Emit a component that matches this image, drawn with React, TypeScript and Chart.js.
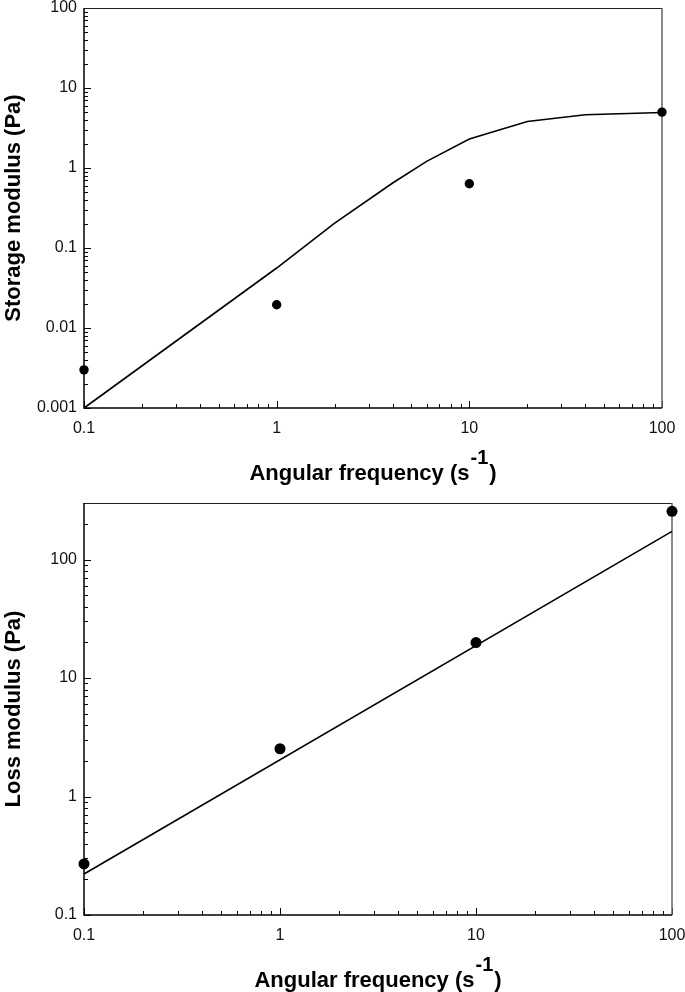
import React, { useEffect, useRef } from "react";
import { Chart, registerables } from "chart.js";

Chart.register(...registerables);

const FONT = "'Liberation Sans', Arial, Helvetica, sans-serif";

// ---- Data: storage modulus (top panel) ----
const topDotFreq = [0.1, 1, 10, 100];
const topDotStorage = [0.003, 0.0195, 0.635, 5.0];
const topFitFreq = [0.1, 1, 2, 4, 6, 10, 20, 40, 100];
const topFitStorage = [0.001, 0.0562, 0.205, 0.65, 1.21, 2.3, 3.82, 4.64, 4.95];

// ---- Data: loss modulus (bottom panel) ----
const botDotFreq = [0.1, 1, 10, 100];
const botDotLoss = [0.27, 2.53, 19.9, 255];
const botFitFreq = [0.1, 100];
const botFitLoss = [0.222, 173];

// ---- Tick labels ----
const freqTicks = [0.1, 1, 10, 100];
const freqTickLabels = ["0.1", "1", "10", "100"];
const storageTicks = [0.001, 0.01, 0.1, 1, 10, 100];
const storageTickLabels = ["0.001", "0.01", "0.1", "1", "10", "100"];
const lossTicks = [0.1, 1, 10, 100];
const lossTickLabels = ["0.1", "1", "10", "100"];

const xTitleMain = "Angular frequency (s";
const xTitleSup = "-1";
const xTitleEnd = ")";

function logTickList(min: number, max: number) {
  const out: { v: number; major: boolean }[] = [];
  const d0 = Math.floor(Math.log10(min)) - 1;
  const d1 = Math.ceil(Math.log10(max)) + 1;
  for (let d = d0; d <= d1; d++) {
    for (let m = 1; m <= 9; m++) {
      const v = m * Math.pow(10, d);
      if (v >= min * (1 - 1e-9) && v <= max * (1 + 1e-9)) out.push({ v, major: m === 1 });
    }
  }
  return out;
}

const decorPlugin = {
  id: "decor",
  beforeDatasetsDraw(chart: any) {
    const { ctx, chartArea: a, scales } = chart;
    const xs = scales.x;
    const ys = scales.y;
    ctx.save();
    ctx.strokeStyle = "#000";
    ctx.lineWidth = 1;
    for (const t of logTickList(xs.min, xs.max)) {
      const px = Math.round(xs.getPixelForValue(t.v)) + 0.5;
      const len = t.major ? 7 : 4;
      ctx.beginPath();
      ctx.moveTo(px, a.bottom);
      ctx.lineTo(px, a.bottom - len);
      ctx.stroke();
    }
    for (const t of logTickList(ys.min, ys.max)) {
      const py = Math.round(ys.getPixelForValue(t.v)) + 0.5;
      const len = t.major ? 7 : 4;
      ctx.beginPath();
      ctx.moveTo(a.left, py);
      ctx.lineTo(a.left + len, py);
      ctx.stroke();
    }
    // frame
    ctx.strokeStyle = "#222";
    ctx.lineWidth = 1;
    ctx.beginPath();
    ctx.moveTo(a.left, a.top + 0.5);
    ctx.lineTo(a.right, a.top + 0.5);
    ctx.stroke();
    ctx.strokeStyle = "#666";
    ctx.lineWidth = 1.5;
    ctx.beginPath();
    ctx.moveTo(a.right, a.top);
    ctx.lineTo(a.right, a.bottom);
    ctx.stroke();
    ctx.strokeStyle = "#000";
    ctx.lineWidth = 1.5;
    ctx.beginPath();
    ctx.moveTo(a.left, a.top);
    ctx.lineTo(a.left, a.bottom);
    ctx.lineTo(a.right, a.bottom);
    ctx.stroke();
    ctx.restore();
  },
  afterDraw(chart: any) {
    const { ctx, chartArea: a } = chart;
    ctx.save();
    ctx.fillStyle = "#000";
    ctx.textBaseline = "alphabetic";
    ctx.textAlign = "left";
    const mainFont = `bold 22px ${FONT}`;
    const supFont = `bold 20px ${FONT}`;
    ctx.font = mainFont;
    const wMain = ctx.measureText(xTitleMain).width;
    const wEnd = ctx.measureText(xTitleEnd).width;
    ctx.font = supFont;
    const wSup = ctx.measureText(xTitleSup).width;
    const gap = 1;
    const total = wMain + gap + wSup + gap + wEnd;
    const x0 = (a.left + a.right) / 2 - total / 2;
    const base = a.bottom + 72;
    ctx.font = mainFont;
    ctx.fillText(xTitleMain, x0, base);
    ctx.font = supFont;
    ctx.fillText(xTitleSup, x0 + wMain + gap, base - 16);
    ctx.font = mainFont;
    ctx.fillText(xTitleEnd, x0 + wMain + gap + wSup + gap, base);
    ctx.restore();
  },
};

type PanelProps = {
  height: number;
  areaTop: number;
  areaBottom: number;
  areaRight: number;
  areaLeft: number;
  yMin: number;
  yMax: number;
  yTitle: string;
  yTicks: number[];
  yTickLabels: string[];
  dotX: number[];
  dotY: number[];
  fitX: number[];
  fitY: number[];
  dotRadius: number;
};

function zeroPad(s: any) {
  s.paddingTop = 0;
  s.paddingBottom = 0;
  s.paddingLeft = 0;
  s.paddingRight = 0;
}

function Panel(p: PanelProps) {
  const ref = useRef<HTMLCanvasElement | null>(null);
  useEffect(() => {
    if (!ref.current) return;
    const width = 685;
    const chart = new Chart(ref.current, {
      type: "scatter",
      data: {
        datasets: [
          {
            data: p.fitX.map((x, i) => ({ x, y: p.fitY[i] })),
            showLine: true,
            borderColor: "#000",
            borderWidth: 1.6,
            pointRadius: 0,
            pointHoverRadius: 0,
            fill: false,
            tension: 0,
            clip: false as any,
            order: 2,
          },
          {
            data: p.dotX.map((x, i) => ({ x, y: p.dotY[i] })),
            showLine: false,
            backgroundColor: "#000",
            borderColor: "#000",
            borderWidth: 0,
            pointRadius: p.dotRadius,
            pointHoverRadius: p.dotRadius,
            clip: false as any,
            order: 1,
          },
        ],
      },
      options: {
        responsive: false,
        animation: false,
        events: [],
        layout: {
          padding: { top: p.areaTop, right: width - p.areaRight, left: 0, bottom: 0 },
        },
        plugins: { legend: { display: false }, tooltip: { enabled: false } },
        scales: {
          x: {
            type: "logarithmic",
            min: freqTicks[0],
            max: freqTicks[freqTicks.length - 1],
            grid: { display: false, drawTicks: false },
            border: { display: false },
            afterFit: (s: any) => {
              s.height = p.height - p.areaBottom;
              zeroPad(s);
            },
            afterBuildTicks: (s: any) => {
              s.ticks = freqTicks.map((v) => ({ value: v }));
            },
            ticks: {
              autoSkip: false,
              maxRotation: 0,
              padding: 11,
              color: "#111",
              font: { family: FONT, size: 16 },
              callback: (_v: any, i: number) => freqTickLabels[i],
            },
          },
          y: {
            type: "logarithmic",
            min: p.yMin,
            max: p.yMax,
            grid: { display: false, drawTicks: false },
            border: { display: false },
            afterFit: (s: any) => {
              s.width = p.areaLeft;
              zeroPad(s);
            },
            afterBuildTicks: (s: any) => {
              s.ticks = p.yTicks.map((v) => ({ value: v }));
            },
            ticks: {
              autoSkip: false,
              padding: 7,
              color: "#111",
              font: { family: FONT, size: 16 },
              callback: (_v: any, i: number) => p.yTickLabels[i],
            },
            title: {
              display: true,
              text: p.yTitle,
              color: "#000",
              font: { family: FONT, size: 22, weight: "bold" },
              padding: { top: 1, bottom: 0 },
            },
          },
        },
      } as any,
      plugins: [decorPlugin],
    });
    return () => chart.destroy();
  }, []);
  return (
    <canvas
      ref={ref}
      width={685}
      height={p.height}
      style={{ display: "block", width: 685, height: p.height }}
    />
  );
}

export default function App() {
  return (
    <div style={{ position: "absolute", left: 0, top: 0, width: 685, height: 992, background: "#fff" }}>
      <div style={{ position: "absolute", left: 0, top: 0 }}>
        <Panel
          height={490}
          areaTop={8}
          areaBottom={408}
          areaLeft={84}
          areaRight={662}
          yMin={storageTicks[0]}
          yMax={storageTicks[storageTicks.length - 1]}
          yTitle="Storage modulus (Pa)"
          yTicks={storageTicks}
          yTickLabels={storageTickLabels}
          dotX={topDotFreq}
          dotY={topDotStorage}
          fitX={topFitFreq}
          fitY={topFitStorage}
          dotRadius={4.7}
        />
      </div>
      <div style={{ position: "absolute", left: 0, top: 490 }}>
        <Panel
          height={502}
          areaTop={13}
          areaBottom={425}
          areaLeft={84}
          areaRight={672}
          yMin={lossTicks[0]}
          yMax={300}
          yTitle="Loss modulus (Pa)"
          yTicks={lossTicks}
          yTickLabels={lossTickLabels}
          dotX={botDotFreq}
          dotY={botDotLoss}
          fitX={botFitFreq}
          fitY={botFitLoss}
          dotRadius={5.5}
        />
      </div>
    </div>
  );
}
